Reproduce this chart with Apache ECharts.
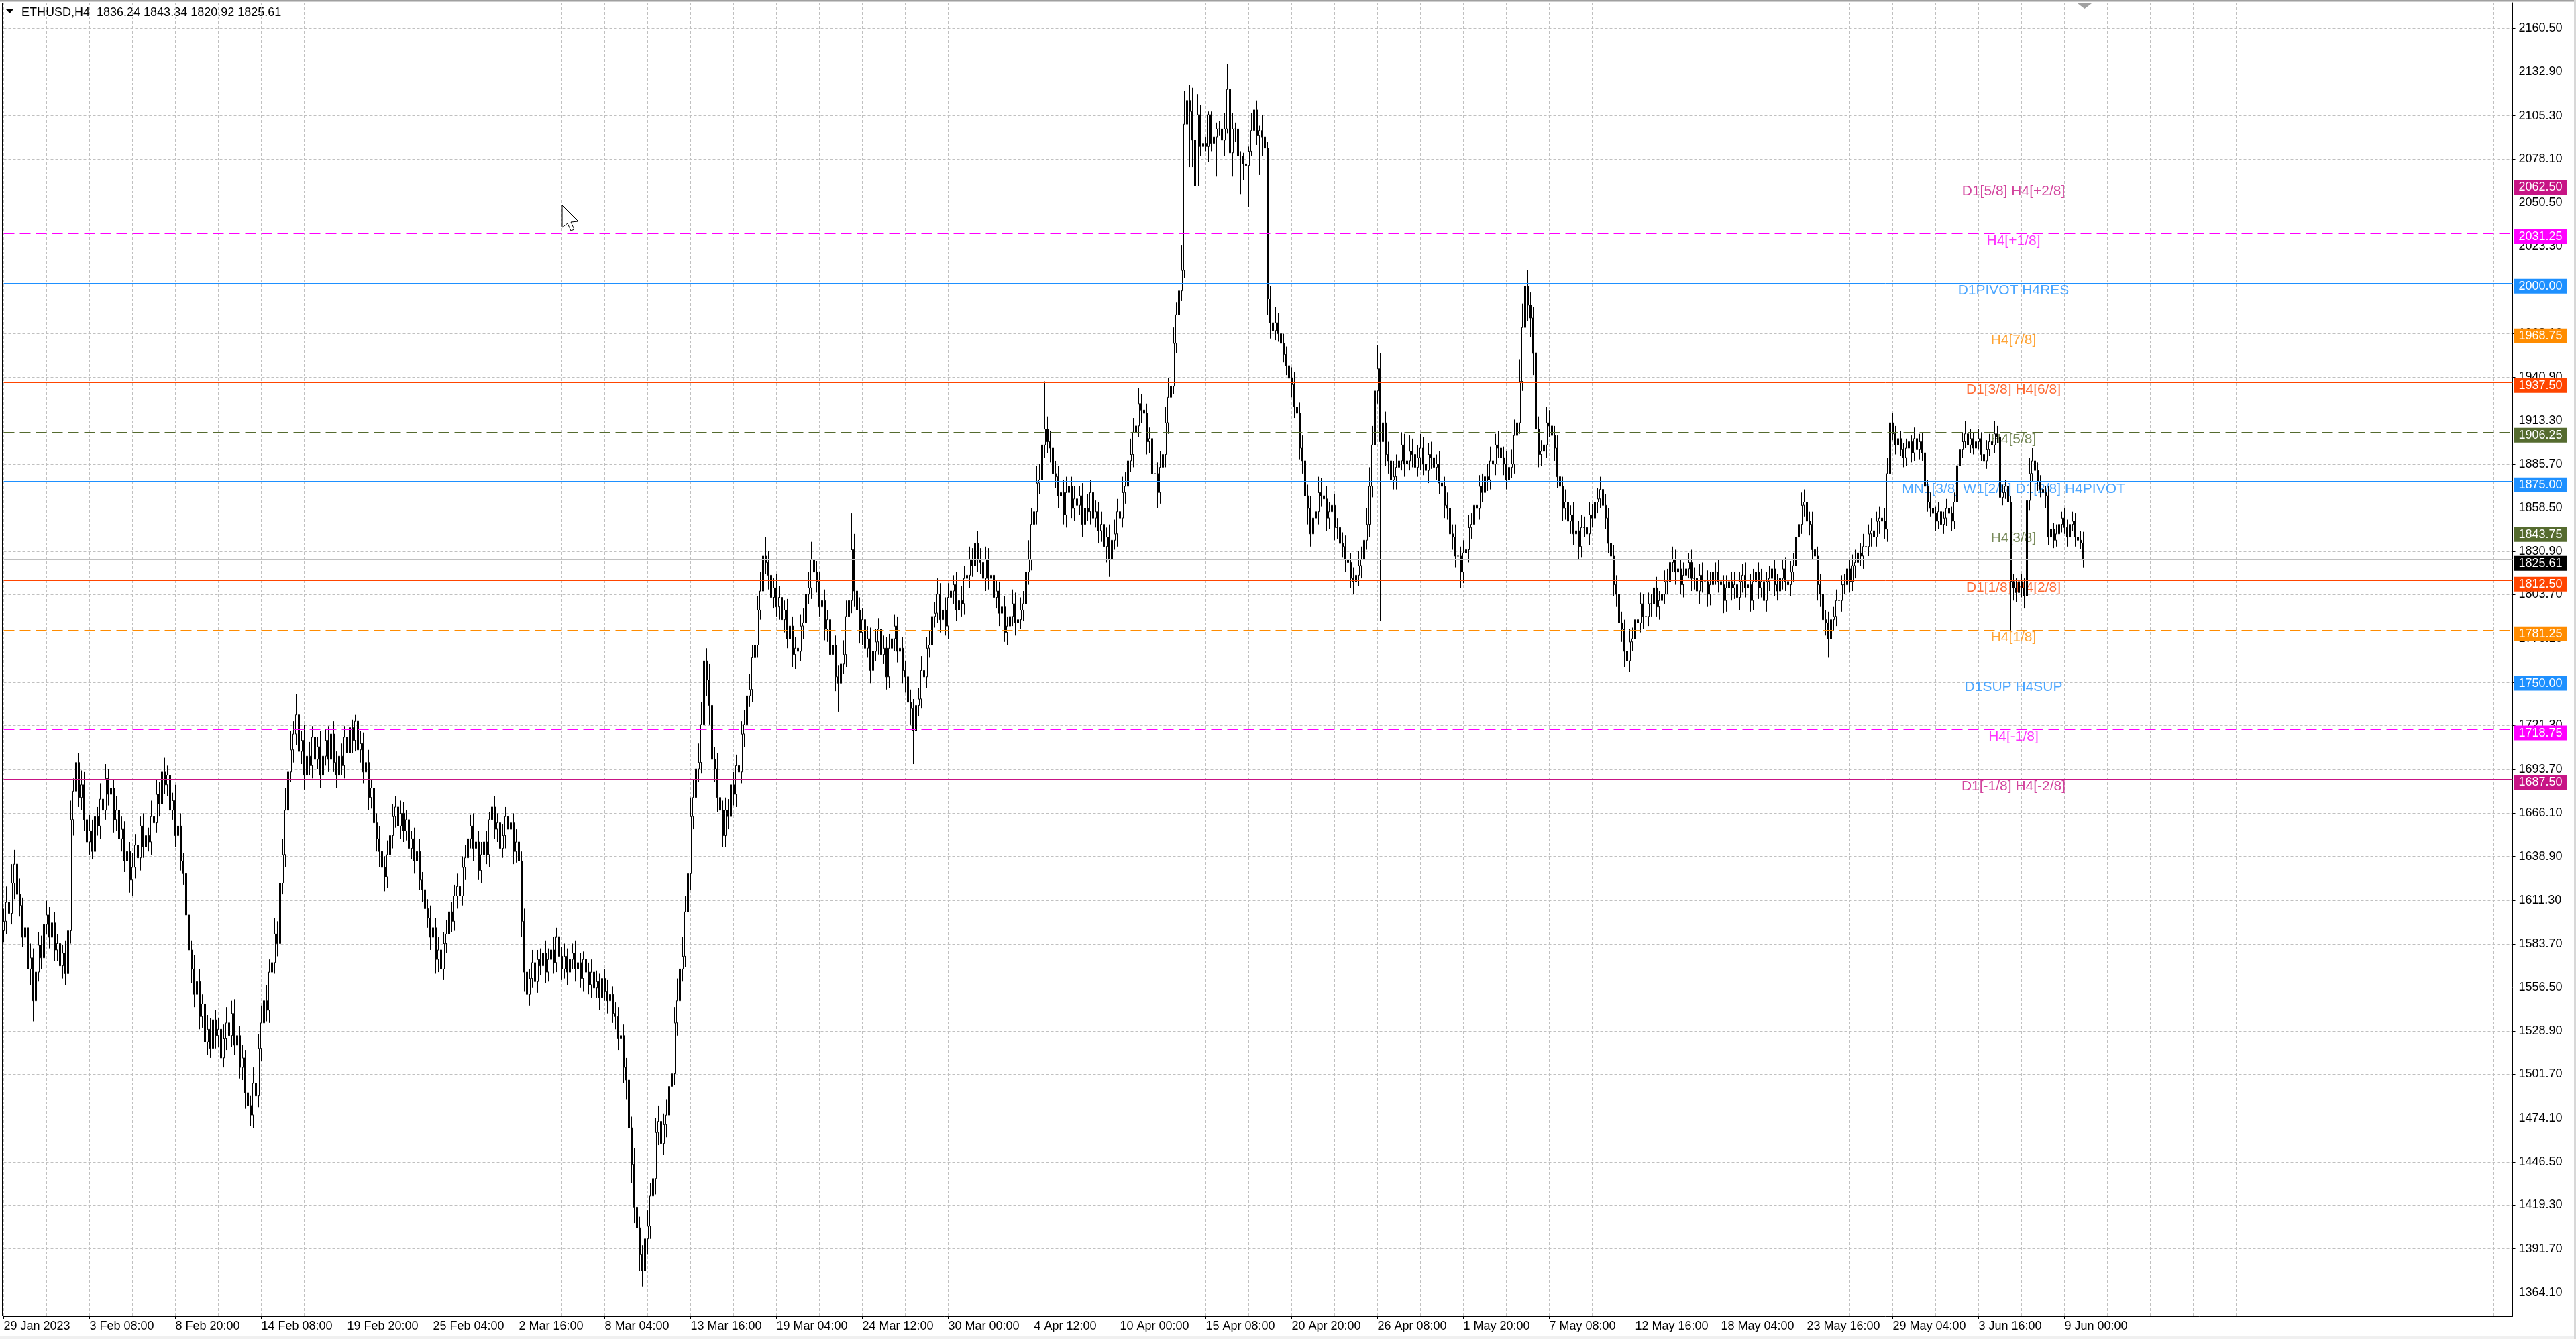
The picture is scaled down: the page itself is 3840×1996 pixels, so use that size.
<!DOCTYPE html>
<html><head><meta charset="utf-8">
<script src="https://cdn.jsdelivr.net/npm/echarts@6/dist/echarts.min.js"></script>
<style>html,body{margin:0;padding:0;background:#fff;overflow:hidden}#c{width:3840px;height:1996px}</style>
</head><body><div id="c"></div><script>
// ---- data ----
const HEADER = 'ETHUSD,H4  1836.24 1843.34 1820.92 1825.61';
const FIRST_OPEN = 1592;
const CLOSE = [
1598,1610,1603,1622,1634,1615,1608,1588,1594,1568,1575,1548,1566,1583,1575,1596,1602,1588,1597,1580,
1584,1570,1578,1565,1592,1662,1680,1698,1676,1684,1662,1648,1655,1642,1664,1658,1675,1668,1688,1678,
1682,1662,1668,1650,1656,1636,1642,1624,1632,1646,1638,1658,1645,1652,1648,1664,1660,1678,1672,1692,
1684,1690,1668,1674,1652,1658,1636,1628,1602,1580,1568,1552,1560,1538,1546,1522,1530,1518,1536,1526,
1530,1512,1524,1534,1526,1540,1520,1526,1506,1512,1490,1482,1476,1496,1488,1518,1534,1548,1542,1566,
1572,1590,1584,1622,1640,1668,1692,1706,1716,1728,1705,1712,1690,1702,1696,1714,1700,1708,1690,1702,
1712,1700,1716,1698,1690,1702,1696,1714,1704,1720,1712,1724,1706,1710,1692,1698,1676,1682,1660,1650,
1642,1632,1626,1640,1652,1664,1670,1658,1666,1655,1662,1644,1650,1636,1642,1624,1618,1606,1600,1588,
1594,1574,1580,1568,1584,1590,1604,1598,1614,1620,1614,1632,1638,1650,1658,1644,1648,1630,1640,1648,
1640,1662,1670,1656,1660,1644,1652,1664,1656,1660,1642,1648,1636,1598,1566,1552,1562,1572,1560,1574,
1570,1578,1566,1574,1580,1572,1588,1576,1568,1576,1566,1574,1578,1568,1572,1562,1574,1566,1558,1566,
1556,1560,1550,1562,1554,1548,1552,1540,1538,1524,1526,1506,1498,1468,1445,1418,1405,1388,1378,1398,
1406,1425,1436,1465,1472,1458,1470,1476,1494,1502,1534,1548,1568,1576,1604,1628,1664,1676,1694,1698,
1722,1762,1750,1734,1700,1694,1676,1668,1652,1668,1664,1684,1678,1696,1692,1716,1722,1740,1744,1764,
1772,1794,1806,1828,1824,1816,1802,1808,1796,1802,1788,1794,1776,1784,1766,1770,1768,1784,1786,1804,
1808,1826,1818,1812,1796,1800,1782,1788,1766,1772,1752,1748,1760,1766,1790,1800,1832,1806,1794,1780,
1788,1770,1776,1756,1768,1774,1782,1766,1770,1752,1770,1776,1784,1768,1770,1756,1752,1736,1732,1718,
1734,1738,1756,1752,1770,1772,1790,1792,1804,1788,1794,1784,1802,1806,1810,1794,1800,1798,1814,1816,
1826,1822,1836,1826,1824,1814,1826,1814,1816,1802,1806,1792,1796,1780,1784,1790,1798,1786,1788,1794,
1798,1818,1826,1848,1856,1874,1876,1898,1908,1900,1896,1880,1878,1866,1868,1854,1868,1872,1858,1864,
1860,1866,1848,1858,1856,1868,1852,1856,1844,1848,1834,1840,1826,1838,1842,1856,1852,1868,1872,1888,
1892,1906,1910,1924,1920,1918,1900,1902,1880,1880,1868,1884,1892,1912,1928,1935,1962,1980,1995,2008,
2100,2115,2108,2090,2061,2106,2086,2088,2086,2106,2088,2092,2097,2097,2090,2097,2122,2082,2097,2097,
2080,2080,2075,2074,2083,2096,2109,2093,2096,2092,2085,1990,1975,1970,1975,1968,1962,1955,1948,1940,
1936,1922,1918,1896,1888,1866,1858,1842,1852,1856,1868,1866,1864,1852,1856,1860,1846,1846,1836,1834,
1826,1824,1814,1812,1816,1822,1826,1838,1848,1872,1898,1932,1946,1900,1912,1892,1888,1876,1878,1884,
1888,1898,1886,1888,1894,1892,1884,1890,1896,1886,1882,1892,1890,1884,1886,1874,1872,1860,1858,1842,
1840,1828,1828,1818,1830,1832,1846,1848,1860,1858,1872,1868,1878,1876,1888,1886,1898,1896,1890,1886,
1876,1884,1886,1904,1912,1938,1972,1998,1986,1978,1956,1908,1892,1894,1898,1912,1910,1904,1896,1878,
1872,1858,1862,1850,1854,1842,1844,1834,1846,1846,1842,1854,1852,1862,1864,1870,1860,1852,1836,1828,
1810,1804,1786,1782,1768,1762,1774,1776,1788,1786,1798,1790,1790,1798,1798,1808,1796,1800,1804,1812,
1812,1824,1826,1818,1820,1810,1816,1820,1824,1814,1814,1806,1816,1812,1812,1804,1810,1818,1818,1812,
1810,1800,1808,1812,1808,1810,1802,1812,1816,1808,1810,1800,1812,1818,1808,1812,1800,1812,1814,1820,
1810,1806,1814,1820,1812,1810,1818,1822,1840,1848,1860,1862,1850,1848,1832,1828,1810,1804,1788,1786,
1776,1788,1790,1800,1800,1810,1810,1820,1812,1822,1824,1830,1828,1834,1834,1842,1844,1840,1850,1852,
1850,1845,1880,1912,1905,1898,1902,1895,1890,1896,1900,1893,1902,1895,1900,1893,1872,1862,1858,1855,
1850,1856,1848,1852,1858,1855,1850,1862,1885,1895,1900,1905,1898,1902,1896,1900,1902,1892,1888,1895,
1900,1898,1905,1903,1865,1868,1872,1862,1812,1808,1805,1812,1808,1803,1863,1880,1888,1882,1875,1870,
1868,1866,1840,1845,1838,1842,1848,1852,1846,1840,1848,1850,1840,1838,1836.24,1825.61];
const UPW = [
8,10,6,12,9,6,10,5,8,7,9,6,11,8,6,10,9,5,8,7, 6,9,5,8,10,12,8,11,6,9,8,5,10,7,9,6,10,8,9,6,
7,5,9,6,8,5,10,6,9,7,11,6,8,7,5,10,6,9,8,3, 9,6,8,5,10,6,8,5,9,7,6,9,5,8,6,10,9,7,8,6,
7,5,9,10,6,8,9,5,6,8,5,9,6,10,7,9,11,7,10,8, 7,10,8,12,10,14,11,12,8,13,7,6,10,8,9,7,8,6,10,8,
7,9,6,8,7,10,8,7,9,8,5,4,6,8,7,6,8,5,7,6, 8,6,7,9,10,8,7,6,8,7,6,8,5,7,6,8,5,7,6,8,
7,6,8,5,7,9,8,6,7,8,9,7,8,6,7,8,6,7,8,9, 7,5,8,7,6,8,7,6,8,7,6,8,7,6,8,7,6,8,7,6,
7,6,8,7,6,8,6,7,6,8,5,7,6,8,7,6,5,7,6,8, 6,7,5,8,6,7,6,5,7,6,8,7,6,8,7,10,8,7,6,8,
10,8,12,9,10,8,7,10,9,12,10,14,11,12,10,14,12,11,10,12, 14,23,8,10,7,8,10,7,6,8,7,9,8,7,10,8,9,7,10,8,
10,9,12,8,12,7,8,6,9,7,8,6,7,8,6,7,8,7,9,8, 10,11,8,7,6,8,7,6,7,8,6,7,8,9,10,12,23,10,7,8,
7,6,8,7,9,8,7,6,8,7,9,8,7,6,8,7,6,7,8,6, 8,7,9,8,7,9,8,7,10,7,6,8,9,7,6,8,7,9,8,7,
8,7,6,8,7,6,8,7,6,8,7,6,8,7,6,8,9,7,6,8, 8,10,12,10,12,11,10,14,30,8,7,6,8,7,6,8,10,7,6,8,
7,6,8,7,9,8,6,7,6,8,7,6,8,7,9,8,7,10,9,8, 10,9,8,10,6,8,6,7,8,6,7,10,8,10,12,8,10,8,10,16,
21,15,10,15,10,13,6,5,4,2,2,3,4,5,4,10,16,9,10,4, 2,3,2,2,3,11,15,6,3,10,5,4,8,6,10,6,5,6,5,6,
7,8,6,7,8,6,7,8,10,8,10,9,7,8,6,8,7,6,8,7, 7,8,6,7,8,9,8,10,10,12,12,14,15,10,8,7,8,7,10,8,
9,8,7,8,10,8,7,8,9,7,8,7,8,7,6,8,7,6,8,7, 6,8,7,6,8,7,8,7,9,8,7,8,7,8,9,8,7,9,8,7,
8,7,9,10,12,14,15,20,10,8,7,10,8,7,9,10,8,7,6,8, 7,6,8,7,6,8,7,6,8,7,6,8,7,8,7,8,6,7,6,8,
7,6,8,7,6,7,8,7,6,8,7,6,8,7,6,8,7,6,8,7, 8,7,8,6,7,6,8,7,6,8,7,6,7,8,6,7,8,7,6,8,
7,6,8,7,6,8,7,6,7,8,6,7,8,7,6,8,7,6,8,7, 6,7,8,6,7,8,7,8,10,9,8,8,7,6,8,7,6,7,8,6,
7,8,6,7,8,6,7,8,6,7,8,7,6,8,7,6,8,7,6,7, 6,8,10,15,6,5,6,5,4,6,5,4,7,6,5,6,5,4,6,5,
4,6,5,4,6,5,4,6,5,8,6,8,5,6,4,5,6,4,5,6, 5,6,8,5,6,5,4,6,4,5,6,4,5,6,8,10,8,6,5,4,
5,4,6,5,4,6,5,4,6,5,4,6,5,4,6,7.1];
const DNW = [
7,8,6,7,10,8,7,6,8,7,10,13,8,6,7,8,6,7,8,7, 7,6,8,7,6,8,10,7,6,8,7,6,8,5,7,6,8,7,6,7,
6,8,7,6,8,7,9,8,10,7,6,8,7,10,6,8,7,6,8,7, 6,7,8,6,7,8,6,7,8,10,9,8,7,8,7,16,8,6,7,8,
7,8,6,7,8,7,6,8,7,8,10,18,7,8,6,7,8,6,7,8, 6,7,8,6,7,8,7,6,8,7,10,8,9,7,6,8,7,6,8,7,
6,8,7,6,8,7,6,8,7,6,8,7,6,8,7,9,8,7,10,8, 10,8,9,7,6,8,7,6,8,7,6,8,7,8,7,6,8,7,6,8,
7,9,8,13,7,6,8,7,6,8,7,6,8,7,6,8,7,6,8,7, 6,8,7,6,8,7,6,8,7,6,8,7,6,10,12,8,7,6,8,7,
6,8,7,6,8,7,6,8,7,6,8,7,6,8,7,6,8,7,6,8, 7,6,8,7,6,8,7,6,8,7,8,10,12,14,12,10,12,10,10,8,
10,8,9,10,8,10,7,8,10,8,7,8,10,8,7,8,10,8,7,8, 7,8,10,12,10,8,9,8,7,7,8,6,7,8,6,7,8,6,7,8,
7,8,6,8,7,9,8,7,6,8,7,8,6,7,8,9,7,6,8,7, 6,7,8,7,6,8,7,8,7,8,9,18,7,6,8,7,8,10,8,7,
8,7,6,8,7,6,8,7,6,8,7,6,8,7,6,8,10,8,10,21, 8,7,6,8,7,6,8,7,6,8,7,6,8,7,8,7,6,8,7,6,
8,7,6,8,7,6,8,7,6,8,7,8,7,6,8,7,6,8,7,6, 7,6,8,7,6,8,7,6,8,7,9,8,7,8,7,6,8,7,6,8,
7,6,8,7,6,8,7,6,8,7,8,10,11,7,6,8,7,6,7,8, 7,8,6,7,8,7,8,7,6,8,10,7,6,8,7,6,5,6,8,6,
5,4,35,17,19,0,6,15,3,10,5,8,25,4,12,10,3,9,15,8, 17,24,10,10,26,3,3,6,25,12,6,10,10,8,6,5,6,5,6,5,
8,7,8,7,8,7,10,8,6,7,8,7,6,8,7,6,8,7,8,7, 8,7,6,8,7,7,8,7,6,8,7,10,8,113,8,7,8,7,6,8,
7,6,8,7,6,8,7,6,8,7,6,8,7,6,8,7,6,8,7,6, 8,7,6,10,7,6,8,7,6,8,7,6,8,7,6,8,7,6,8,7,
6,8,7,6,8,7,6,8,10,12,14,10,8,7,6,8,7,6,8,7, 6,8,7,6,8,7,6,8,7,6,8,7,6,8,7,6,8,7,6,8,
7,8,7,8,10,18,7,6,8,7,6,8,7,6,8,7,6,8,7,6, 8,7,6,8,7,6,8,7,6,8,7,6,8,7,6,8,7,6,8,7,
6,8,7,6,8,7,6,8,7,6,8,7,6,8,7,6,8,7,6,8, 7,6,8,7,6,8,7,6,8,7,6,7,8,7,6,8,10,8,7,8,
12,8,7,6,8,7,6,8,7,6,8,7,6,8,7,6,8,7,6,8, 5,6,8,5,4,6,5,4,6,5,4,6,5,4,6,5,4,6,5,4,
6,5,8,6,5,4,6,5,4,6,5,4,6,5,4,6,5,4,6,5, 4,6,5,4,6,5,4,6,31,8,6,12,6,8,5,6,5,4,6,5,
6,8,5,6,5,4,6,5,4,6,5,4,6,5,4,4.69];
const DATE_LABELS = ['29 Jan 2023','3 Feb 08:00','8 Feb 20:00','14 Feb 08:00','19 Feb 20:00','25 Feb 04:00',
'2 Mar 16:00','8 Mar 04:00','13 Mar 16:00','19 Mar 04:00','24 Mar 12:00','30 Mar 00:00','4 Apr 12:00',
'10 Apr 00:00','15 Apr 08:00','20 Apr 20:00','26 Apr 08:00','1 May 20:00','7 May 08:00','12 May 16:00',
'18 May 04:00','23 May 16:00','29 May 04:00','3 Jun 16:00','9 Jun 00:00'];
const PRICE_TICKS = [2160.5,2132.9,2105.3,2078.1,2050.5,2023.3,1995.7,1968.1,1940.9,1913.3,1885.7,1858.5,
1830.9,1803.7,1776.1,1748.5,1721.3,1693.7,1666.1,1638.9,1611.3,1583.7,1556.5,1528.9,1501.7,1474.1,1446.5,1419.3,1391.7,1364.1];
const LEVEL_PRICES = [2062.5,2031.25,2000,1968.75,1937.5,1906.25,1875,1843.75,1812.5,1781.25,1750,1718.75,1687.5];
const LEVEL_NAMES = ['D1[5/8] H4[+2/8]','H4[+1/8]','D1PIVOT H4RES','H4[7/8]','D1[3/8] H4[6/8]','H4[5/8]',
'MN1[3/8] W1[2/8] D1[2/8] H4PIVOT','H4[3/8]','D1[1/8] H4[2/8]','H4[1/8]','D1SUP H4SUP','H4[-1/8]','D1[-1/8] H4[-2/8]'];
const CURRENT_PRICE = 1825.61;

// ---- styles ----
const LEVEL_COLORS = ['#C71585','#FF00FF','#1E90FF','#FF8C00','#FF4500','#556B2F','#1E90FF','#556B2F','#FF4500','#FF8C00','#1E90FF','#FF00FF','#C71585'];
const LEVEL_DASHED = [0,1,0,1,0,1,0,1,0,1,0,1,0];
const LEVEL_WIDTH  = [1,1,1,1,1,1,2,1,1,1,1,1,1];
const FONT = 'Liberation Sans';
const SLOTS = 936, LABEL_SLOT = 749;

const cats = []; for (let i = 0; i < SLOTS; i++) cats.push(String(i));
const ohlc = CLOSE.map((c, i) => {
  const o = i === 0 ? FIRST_OPEN : CLOSE[i - 1];
  return [o, c, Math.min(o, c) - DNW[i], Math.max(o, c) + UPW[i]];
});

const boxLabel = (bg) => ({show: true, position: 'end', distance: 2, offset: [0, 5], formatter: (p) => p.value.toFixed(2),
  backgroundColor: bg, color: '#fff', padding: [2, 7, 2, 7], fontSize: 18, fontFamily: FONT, lineHeight: 18});
const markData = LEVEL_PRICES.map((p, i) => ({
  yAxis: p,
  lineStyle: {color: LEVEL_COLORS[i], width: LEVEL_WIDTH[i], type: LEVEL_DASHED[i] ? [16, 8] : 'solid'},
  label: boxLabel(LEVEL_COLORS[i])
}));
markData.push({yAxis: CURRENT_PRICE, lineStyle: {color: '#C0C0C0', width: 1, type: 'solid'}, label: boxLabel('#000')});

const chart = echarts.init(document.getElementById('c'), null, {renderer: 'canvas'});
chart.setOption({
  animation: false,
  backgroundColor: '#fff',
  grid: {left: 5.5, right: 94.5, top: 4, bottom: 34, containLabel: false},
  xAxis: {
    type: 'category', data: cats, boundaryGap: false,
    axisLine: {show: true, lineStyle: {color: '#000', width: 1}},
    axisTick: {show: true, length: 4, interval: (i) => i % 32 === 0 && i / 32 < DATE_LABELS.length, lineStyle: {color: '#000'}},
    axisLabel: {show: true, interval: (i) => i % 32 === 0 && i / 32 < DATE_LABELS.length,
      formatter: (v, i) => DATE_LABELS[i / 32] || '', align: 'left', margin: 6,
      fontSize: 18, fontFamily: FONT, color: '#000'},
    splitLine: {show: true, interval: (i) => i % 16 === 0, lineStyle: {color: '#C0C0C0', width: 1, type: [4, 3]}}
  },
  yAxis: {
    type: 'value', position: 'right', min: 1349.3, max: 2176.55, scale: true,
    axisLine: {show: true, lineStyle: {color: '#000', width: 1}},
    axisTick: {show: true, length: 4, customValues: PRICE_TICKS, lineStyle: {color: '#000'}},
    axisLabel: {show: true, customValues: PRICE_TICKS, formatter: (v) => v.toFixed(2), margin: 9,
      fontSize: 18, fontFamily: FONT, color: '#000'},
    splitLine: {show: true, lineStyle: {color: '#C0C0C0', width: 1, type: [4, 3]}}
  },
  series: [
    {
      type: 'scatter', z: 1, silent: true, symbolSize: 1,
      itemStyle: {color: 'rgba(0,0,0,0)'},
      data: LEVEL_PRICES.map((p, i) => ({value: [LABEL_SLOT, p], label: {color: LEVEL_COLORS[i]}})),
      label: {show: true, position: 'bottom', distance: 0, formatter: (p) => LEVEL_NAMES[p.dataIndex],
        fontSize: 21, fontFamily: FONT},
      markLine: {silent: true, symbol: ['none', 'none'], animation: false, precision: 2, data: markData}
    },
    {
      type: 'candlestick', z: 3, silent: true, large: false, clip: false, barWidth: 3,
      progressive: 0,
      itemStyle: {color: '#fff', color0: '#000', borderColor: '#000', borderColor0: '#000', borderWidth: 1},
      data: ohlc
    }
  ],
  graphic: [
    {type: 'rect', silent: true, shape: {x: 0, y: 0, width: 3840, height: 2.5}, style: {fill: '#A0A0A0'}},
    {type: 'rect', silent: true, shape: {x: 0, y: 1991, width: 3840, height: 5}, style: {fill: '#F0F0F0'}},
    {type: 'rect', silent: true, shape: {x: 3837, y: 0, width: 3, height: 1996}, style: {fill: '#D8D8D8'}},
    {type: 'line', silent: true, shape: {x1: 3, y1: 4.5, x2: 3746, y2: 4.5}, style: {stroke: '#000', lineWidth: 1}},
    {type: 'line', silent: true, shape: {x1: 3.5, y1: 4, x2: 3.5, y2: 1962}, style: {stroke: '#000', lineWidth: 1}},
    {type: 'polygon', silent: true, shape: {points: [[9, 14], [20, 14], [14.5, 20]]}, style: {fill: '#000'}},
    {type: 'text', silent: true, x: 32, y: 19.5, style: {text: HEADER, fontSize: 18, fontFamily: FONT, fill: '#000', verticalAlign: 'middle'}},
    {type: 'polygon', silent: true, shape: {points: [[3097, 5], [3118, 5], [3107.5, 13]]}, style: {fill: '#A0A0A0'}},
    {type: 'polygon', silent: true, z: 100, shape: {points: [[838, 306], [862, 330], [851, 331], [856, 342], [851, 344], [846, 333], [838, 339]]},
      style: {fill: '#fff', stroke: '#000', lineWidth: 1}}
  ]
});
</script></body></html>
